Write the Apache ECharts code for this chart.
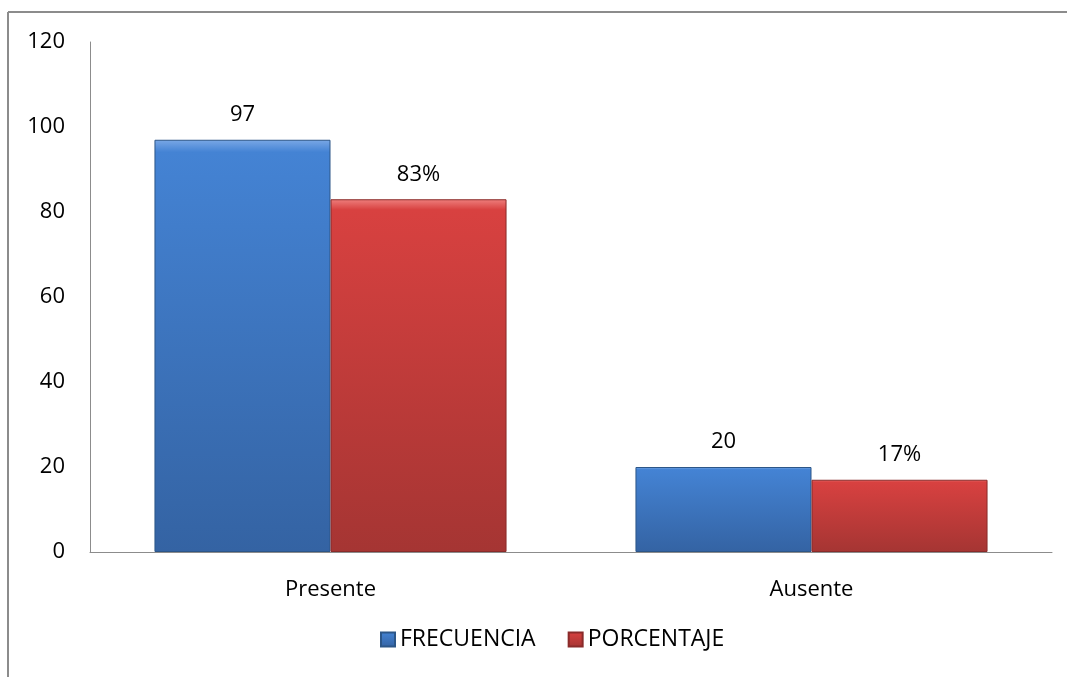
<!DOCTYPE html>
<html>
<head>
<meta charset="utf-8">
<script src="https://cdn.jsdelivr.net/npm/echarts@6/dist/echarts.min.js"></script>
<style>
  html, body { margin: 0; padding: 0; background: #fff; }
  #chart { width: 1067px; height: 677px; }
</style>
</head>
<body>
<div id="chart"></div>
<script>
// categorias y valores
const categories = ["Presente", "Ausente"];
const frecuencia = [97, 20];
const porcentaje = [83, 17];
const yTicks = { min: 0, max: 120, interval: 20 };

const chart = echarts.init(document.getElementById("chart"));

function bevel(top, mid, bottom) {
  return new echarts.graphic.LinearGradient(0, 0, 0, 1, [
    { offset: 0, color: top },
    { offset: 0.03, color: mid },
    { offset: 1, color: bottom },
  ]);
}

const font = "'Open Sans', 'Liberation Sans', sans-serif";

const option = {
  animation: false,
  textStyle: { fontFamily: font },
  graphic: [
    // marco del grafico
    { type: "line", shape: { x1: 8, y1: 12, x2: 1067, y2: 12 }, style: { stroke: "#8c8c8c", lineWidth: 2 } },
    { type: "line", shape: { x1: 8, y1: 12, x2: 8, y2: 677 }, style: { stroke: "#8c8c8c", lineWidth: 2 } },
  ],
  grid: { left: 90, right: 15, top: 42, bottom: 125 },
  legend: {
    bottom: 21,
    left: 375,
    itemGap: 32,
    itemWidth: 14,
    itemHeight: 14,
    icon: "rect",
    textStyle: { fontSize: 23, color: "#000", fontFamily: font },
    data: ["FRECUENCIA", "PORCENTAJE"],
  },
  xAxis: {
    type: "category",
    data: categories,
    axisLine: { lineStyle: { color: "#8c8c8c", width: 1 } },
    axisTick: { show: false },
    axisLabel: { color: "#000", fontSize: 22, margin: 27 },
  },
  yAxis: {
    type: "value",
    min: yTicks.min,
    max: yTicks.max,
    interval: yTicks.interval,
    splitLine: { show: false },
    axisLine: { show: true, lineStyle: { color: "#8c8c8c", width: 1 } },
    axisTick: { show: false },
    axisLabel: { color: "#000", fontSize: 22, margin: 25 },
  },
  series: [
    {
      name: "FRECUENCIA",
      type: "bar",
      data: frecuencia,
      barGap: "0%",
      barCategoryGap: "26.8%",
      itemStyle: {
        color: bevel("#7aa8e6", "#4483d4", "#3463a3"),
        borderColor: "#2c5688",
        borderWidth: 1,
      },
      label: { show: true, position: "top", distance: 14, color: "#000", fontSize: 22 },
    },
    {
      name: "PORCENTAJE",
      type: "bar",
      data: porcentaje,
      itemStyle: {
        color: bevel("#ee7f7d", "#d84140", "#a53533"),
        borderColor: "#8a2b2a",
        borderWidth: 1,
      },
      label: { show: true, position: "top", distance: 14, color: "#000", fontSize: 22, formatter: "{c}%" },
    },
  ],
};

chart.setOption(option);
</script>
</body>
</html>
